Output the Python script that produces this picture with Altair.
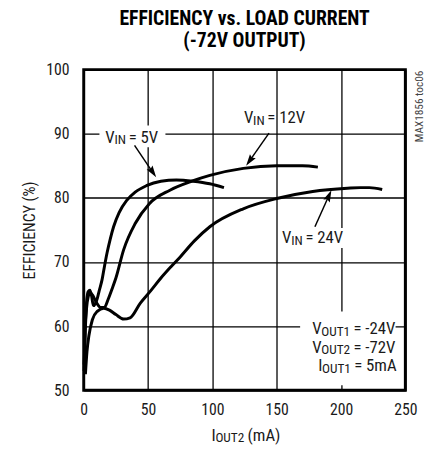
import math
import altair as alt
import pandas as pd

# ---------------- data ----------------
vin5_load = [0.3, 1.2, 2.2, 3.5, 4.8, 6.2, 7.5, 9, 10.5, 12, 14.3, 16, 18.1, 20.5, 23.2, 27.5, 33.4, 40, 48.7, 60, 72, 85, 98, 109]
vin5_eff = [53, 60, 63.8, 65.4, 65.6, 64.6, 63.2, 63.5, 64.3, 65.5, 67.3, 69.2, 71.4, 73.5, 75.5, 77.7, 79.6, 80.9, 81.9, 82.6, 82.8, 82.6, 82.2, 81.6]

vin12_load = [0.3, 1.2, 2.2, 3.5, 5, 7, 9, 11, 13, 16, 19, 22, 25, 31, 40, 51, 67, 84, 98, 124, 150, 170, 182]
vin12_eff = [54, 59.5, 62.8, 64.6, 65.2, 64.8, 64, 63.3, 62.9, 62.9, 64.2, 65.8, 67.5, 71.9, 76, 79.1, 81.2, 82.6, 83.5, 84.6, 85, 85, 84.8]

vin24_load = [1.3, 2.5, 4, 6.7, 10.5, 15.6, 20, 25, 31, 36, 44, 52, 60, 68, 75, 86, 98, 124, 150, 178, 205, 215, 222, 232]
vin24_eff = [52.5, 56, 58.5, 61, 62.3, 62.8, 62.5, 61.8, 61.1, 61.3, 63.6, 65.5, 67.5, 69.3, 70.8, 73.3, 75.5, 78.3, 79.9, 81.0, 81.5, 81.6, 81.6, 81.3]

x_ticks = [0, 50, 100, 150, 200, 250]
y_ticks = [50, 55, 60, 65, 70, 75, 80, 85, 90, 95, 100]

title_lines = ["EFFICIENCY vs. LOAD CURRENT", "(-72V OUTPUT)"]
y_title = "EFFICIENCY (%)"
code_text = "MAX1856 toc06"

# ---------------- layout helpers ----------------
FONT = "Roboto Condensed"
INK = "#1a1a1a"
W, H = 327, 326
XMAX, YMIN, YMAX = 250, 50, 100
PX_X = W / XMAX
PX_Y = H / (YMAX - YMIN)
MAIN, SUB = 17, 13.5
NARROW = 0.81

AR = {'V': .667, 'I': .278, 'N': .722, 'O': .778, 'U': .722, 'T': .611, ' ': .26,
      '=': .584, '-': .333, 'm': .833, 'A': .667, '(': .333, ')': .333}


def tw(s, size):
    return sum(AR.get(c, .556) for c in s) * size * NARROW


def dx(px):
    return px / PX_X


def dy(px):
    return px / PX_Y


pieces = []


def label(x0, y0, parts):
    """parts: list of (text, is_sub); x0 left edge (data), y0 centre (data)."""
    cur = 0.0
    for t, sub in parts:
        size = SUB if sub else MAIN
        lead = len(t) - len(t.lstrip(" "))
        cur += tw(" " * lead, size)   # SVG drops leading spaces: advance explicitly
        body = t.lstrip(" ")
        pieces.append(dict(x=x0 + dx(cur), y=y0 - (dy(2.5) if sub else 0), text=body, size=size))
        cur += tw(body, size)


def label_right(xr, y0, parts):
    total = sum(tw(t, SUB if s else MAIN) for t, s in parts)
    label(xr - dx(total), y0, parts)


label(16.8, 89.4, [("V", False), ("IN", True), (" = 5V", False)])
label(124.6, 92.4, [("V", False), ("IN", True), (" = 12V", False)])
label(154.2, 73.7, [("V", False), ("IN", True), (" = 24V", False)])
label_right(240.8, 59.5, [("V", False), ("OUT1", True), (" = -24V", False)])
label_right(240.8, 56.6, [("V", False), ("OUT2", True), (" = -72V", False)])
label_right(240.8, 53.7, [("I", False), ("OUT1", True), (" = 5mA", False)])
# x-axis title (below the plot)
label(99.4, 42.9, [("I", False), ("OUT2", True), (" (mA)", False)])
text_df = pd.DataFrame(pieces)

# white masks behind labels (gridline gaps)
masks = pd.DataFrame([
    dict(x=12.2, x2=63.5, y=87.9, y2=91.3),
    dict(x=151.4, x2=204.1, y=72.2, y2=75.3),
    dict(x=168.2, x2=242.4, y=50.8, y2=62.3),
])

# arrows: tail -> tip, data coords
arrows = [((39.5, 88.2), (56.3, 83.2)),
          ((144.0, 90.1), (126.2, 85.0)),
          ((179.7, 75.5), (192.5, 81.2))]
seg_rows, head_rows = [], []
HEAD = 12
for i, ((x1, y1), (x2, y2)) in enumerate(arrows):
    ddx = (x2 - x1) * PX_X
    ddy = -(y2 - y1) * PX_Y
    L = math.hypot(ddx, ddy)
    ux, uy = ddx / L, ddy / L
    bx, by = x2 - dx(ux * HEAD * 0.8), y2 + dy(uy * HEAD * 0.8)
    seg_rows.append(dict(x=x1, y=y1, x2=bx, y2=by))
    cx, cy = x2 - dx(ux * HEAD / 2), y2 + dy(uy * HEAD / 2)
    ang = math.degrees(math.atan2(ux, -uy)) % 360
    head_rows.append(dict(x=cx, y=cy, angle=ang))
seg_df = pd.DataFrame(seg_rows)
head_df = pd.DataFrame(head_rows)

rows = []
for name, xs_, ys_ in [("5V", vin5_load, vin5_eff), ("12V", vin12_load, vin12_eff), ("24V", vin24_load, vin24_eff)]:
    for i, (a, b) in enumerate(zip(xs_, ys_)):
        rows.append(dict(series=name, load=a, eff=b, idx=i))
curves = pd.DataFrame(rows)

xs = alt.Scale(domain=[0, XMAX], nice=False, zero=False)
ys = alt.Scale(domain=[YMIN, YMAX], nice=False, zero=False)

grid_color = {"condition": {"test": "datum.value % 10 !== 0", "value": "#8a8a8a"}, "value": "black"}
grid_width = {"condition": {"test": "datum.value % 10 !== 0", "value": 2}, "value": 1.3}

base_x = alt.X("load:Q", scale=xs, axis=alt.Axis(values=x_ticks, title=None, grid=True, gridColor="black",
                                                   gridWidth=1.3, ticks=False, domain=False, labelPadding=12,
                                                   labelFont=FONT, labelFontSize=16, labelColor=INK,
                                                   labelFlush=False))
base_y = alt.Y("eff:Q", scale=ys, axis=alt.Axis(values=y_ticks, title=y_title, grid=True, gridColor=grid_color,
                                                  gridWidth=grid_width, ticks=False, domain=False, labelPadding=15,
                                                  labelExpr="datum.value % 10 === 0 ? datum.label : ''",
                                                  labelFont=FONT, labelFontSize=16, labelColor=INK,
                                                  titleFont=FONT, titleFontSize=16, titleFontWeight="normal",
                                                  titleColor=INK, titlePadding=8))

lines = alt.Chart(curves).mark_line(color="black", strokeWidth=3, interpolate="monotone").encode(
    x=base_x, y=base_y, detail="series:N", order="idx:Q")

mask = alt.Chart(masks).mark_rect(color="white").encode(
    x=alt.X("x:Q", scale=xs), x2="x2", y=alt.Y("y:Q", scale=ys), y2="y2")

segs = alt.Chart(seg_df).mark_rule(color="black", strokeWidth=1.5).encode(
    x=alt.X("x:Q", scale=xs), y=alt.Y("y:Q", scale=ys), x2="x2", y2="y2")

heads = alt.Chart(head_df).mark_point(shape="M0,-1L-0.6,1L0,0.7L0.6,1Z", filled=True, color="black",
                                      size=144, opacity=1, strokeWidth=0).encode(
    x=alt.X("x:Q", scale=xs), y=alt.Y("y:Q", scale=ys), angle=alt.Angle("angle:Q", scale=None))

texts = alt.Chart(text_df).mark_text(align="left", baseline="middle", font=FONT, color=INK).encode(
    x=alt.X("x:Q", scale=xs), y=alt.Y("y:Q", scale=ys), text="text:N", size=alt.Size("size:Q", scale=None))

code = alt.Chart(pd.DataFrame({"t": [code_text]})).mark_text(
    angle=270, align="right", baseline="middle", font=FONT, fontSize=11.5, color="#444").encode(
    x=alt.value(W + 15), y=alt.value(1), text="t:N")

chart = alt.layer(mask, lines, segs, heads, texts, code).properties(
    width=W, height=H,
    title=alt.TitleParams(title_lines, font=FONT, fontSize=20, fontWeight="bold", anchor="middle",
                          lineHeight=22, offset=11, color="black"),
    autosize=alt.AutoSizeParams(type="none"),
    padding={"left": 77, "top": 59, "right": 22, "bottom": 54},
).configure_view(stroke="black", strokeWidth=3)

chart.save("out.html", embed_options={"renderer": "svg", "actions": False})
